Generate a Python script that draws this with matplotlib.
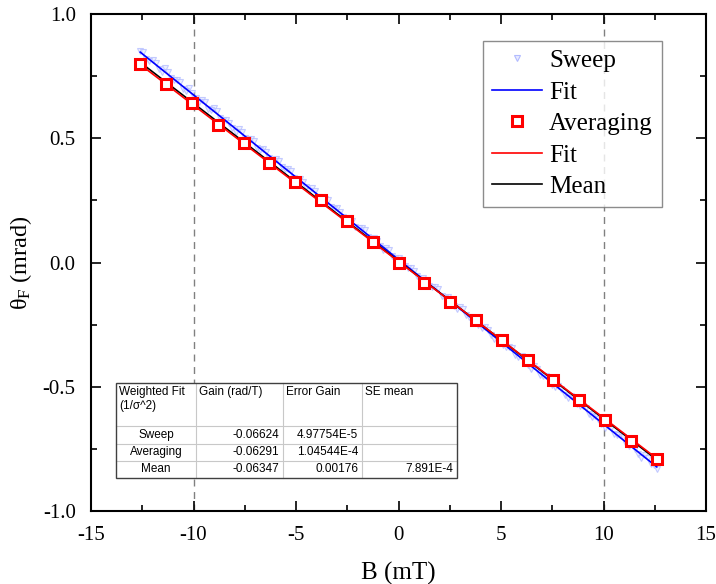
import matplotlib
matplotlib.use("Agg")
import matplotlib.pyplot as plt
import numpy as np
from matplotlib.patches import Rectangle
from matplotlib.lines import Line2D

plt.rcParams['font.family'] = ['Liberation Serif', 'DejaVu Serif']
plt.rcParams['mathtext.fontset'] = 'custom'
plt.rcParams['mathtext.rm'] = 'Liberation Serif'
plt.rcParams['mathtext.it'] = 'Liberation Serif:italic'

# ---------------- data ----------------
sweep_B = [-12.6, -12.3, -12.0, -11.7, -11.4, -11.1, -10.8, -10.5, -10.2, -9.9,
           -9.6, -9.3, -9.0, -8.7, -8.4, -8.1, -7.8, -7.5, -7.2, -6.9,
           -6.6, -6.3, -6.0, -5.7, -5.4, -5.1, -4.8, -4.5, -4.2, -3.9,
           -3.6, -3.3, -3.0, -2.7, -2.4, -2.1, -1.8, -1.5, -1.2, -0.9,
           -0.6, -0.3, 0.0, 0.3, 0.6, 0.9, 1.2, 1.5, 1.8, 2.1,
           2.4, 2.7, 3.0, 3.3, 3.6, 3.9, 4.2, 4.5, 4.8, 5.1,
           5.4, 5.7, 6.0, 6.3, 6.6, 6.9, 7.2, 7.5, 7.8, 8.1,
           8.4, 8.7, 9.0, 9.3, 9.6, 9.9, 10.2, 10.5, 10.8, 11.1,
           11.4, 11.7, 12.0, 12.3, 12.6,
           -12.45, -12.15, -11.85, -11.55, -11.25, -10.95, -10.65, -10.35, -10.05, -9.75,
           -9.45, -9.15, -8.85, -8.55, -8.25, -7.95, -7.65, -7.35, -7.05, -6.75,
           -6.45, -6.15, -5.85, -5.55, -5.25, -4.95, -4.65, -4.35, -4.05, -3.75,
           -3.45, -3.15, -2.85, -2.55, -2.25, -1.95, -1.65, -1.35, -1.05, -0.75,
           -0.45, -0.15, 0.15, 0.45, 0.75, 1.05, 1.35, 1.65, 1.95, 2.25,
           2.55, 2.85, 3.15, 3.45, 3.75, 4.05, 4.35, 4.65, 4.95, 5.25,
           5.55, 5.85, 6.15, 6.45, 6.75, 7.05, 7.35, 7.65, 7.95, 8.25,
           8.55, 8.85, 9.15, 9.45, 9.75, 10.05, 10.35, 10.65, 10.95, 11.25,
           11.55, 11.85, 12.15, 12.45]
sweep_theta = [0.852, 0.818, 0.815, 0.779, 0.781, 0.741, 0.735, 0.699, 0.701, 0.662,
               0.655, 0.619, 0.620, 0.583, 0.574, 0.541, 0.537, 0.503, 0.498, 0.461,
               0.455, 0.421, 0.417, 0.384, 0.378, 0.342, 0.336, 0.303, 0.298, 0.262,
               0.257, 0.224, 0.218, 0.183, 0.179, 0.144, 0.138, 0.104, 0.099, 0.065,
               0.059, 0.025, 0.019, -0.014, -0.021, -0.055, -0.061, -0.094, -0.100, -0.134,
               -0.140, -0.174, -0.179, -0.213, -0.219, -0.253, -0.259, -0.293, -0.298, -0.333,
               -0.339, -0.372, -0.378, -0.412, -0.418, -0.452, -0.457, -0.491, -0.497, -0.532,
               -0.537, -0.571, -0.576, -0.611, -0.616, -0.651, -0.656, -0.690, -0.696, -0.730,
               -0.736, -0.770, -0.775, -0.809, -0.830,
               0.847, 0.811, 0.801, 0.765, 0.765, 0.734, 0.727, 0.692, 0.682, 0.646,
               0.646, 0.615, 0.608, 0.572, 0.562, 0.527, 0.527, 0.496, 0.489, 0.453,
               0.443, 0.407, 0.408, 0.377, 0.370, 0.334, 0.324, 0.288, 0.288, 0.257,
               0.251, 0.215, 0.205, 0.169, 0.169, 0.138, 0.131, 0.095, 0.086, 0.050,
               0.050, 0.019, 0.012, -0.024, -0.034, -0.070, -0.069, -0.100, -0.107, -0.143,
               -0.153, -0.189, -0.189, -0.220, -0.226, -0.262, -0.272, -0.308, -0.308, -0.339,
               -0.346, -0.382, -0.391, -0.427, -0.427, -0.458, -0.465, -0.501, -0.511, -0.547,
               -0.546, -0.577, -0.584, -0.620, -0.630, -0.666, -0.666, -0.696, -0.703, -0.739,
               -0.749, -0.785, -0.785, -0.816]

avg_B = [-12.6, -11.34, -10.08, -8.82, -7.56, -6.3, -5.04, -3.78, -2.52, -1.26, 0.0,
         1.26, 2.52, 3.78, 5.04, 6.3, 7.56, 8.82, 10.08, 11.34, 12.6]
avg_theta = [0.80, 0.72, 0.64, 0.555, 0.48, 0.40, 0.325, 0.25, 0.165, 0.082, 0.0,
             -0.082, -0.157, -0.232, -0.311, -0.391, -0.473, -0.553, -0.635, -0.717, -0.79]

# fit parameters (slope in mrad/mT, intercept in mrad)
fit_names = ['Sweep', 'Averaging', 'Mean']
fit_slope = [-0.06624, -0.06291, -0.06347]
fit_intercept = [0.012, 0.004, 0.006]
fit_range = [-12.6, 12.6]

table_header = ['Weighted Fit\n(1/σ^2)', 'Gain (rad/T)', 'Error Gain', 'SE mean']
table_rows = [['Sweep', '-0.06624', '4.97754E-5', ''],
              ['Averaging', '-0.06291', '1.04544E-4', ''],
              ['Mean', '-0.06347', '0.00176', '7.891E-4']]

vlines_B = [-10, 10]

# ---------------- figure ----------------
fig = plt.figure(figsize=(7.16, 5.84), dpi=100)
ax = fig.add_axes([91/716, 73/584, 615/716, 497/584])

for xv in vlines_B:
    ax.axvline(xv, color='#808080', ls=(0, (5, 4)), lw=1.0, zorder=1)

sweep_style = dict(ls='none', marker='v', ms=5, mfc='#e8ebff', mec='#b2bbff', mew=0.8)
ax.plot(sweep_B, sweep_theta, alpha=0.75, zorder=2, **sweep_style)
xf = np.array(fit_range)
ax.plot(xf, fit_slope[0]*xf + fit_intercept[0], color='#0000ff', lw=1.2, zorder=3)
ax.plot(xf, fit_slope[2]*xf + fit_intercept[2], color='black', lw=1.2, zorder=3)
ax.plot(xf, fit_slope[1]*xf + fit_intercept[1], color='#ff0000', lw=1.2, zorder=4)
avg_style = dict(ls='none', marker='s', ms=7, mfc='white', mec='#ff0000', mew=2.2)
ax.plot(avg_B, avg_theta, zorder=5, **avg_style)

ax.set_xlim(-15, 15)
ax.set_ylim(-1.0, 1.0)
ax.set_xticks([-15, -10, -5, 0, 5, 10, 15])
ax.set_xticks(np.arange(-12.5, 15, 5), minor=True)
ax.set_yticks([-1.0, -0.5, 0.0, 0.5, 1.0])
ax.set_yticks([-0.75, -0.25, 0.25, 0.75], minor=True)
ax.set_yticklabels(['-1.0', '-0.5', '0.0', '0.5', '1.0'])
ax.set_xticklabels(['-15', '-10', '-5', '0', '5', '10', '15'])
ax.tick_params(which='both', direction='in', top=True, right=True, labelsize=15, width=1.2)
ax.tick_params(which='major', length=7)
ax.tick_params(which='minor', length=4)
ax.tick_params(axis='x', pad=11)
ax.tick_params(axis='y', pad=11)
for sp in ax.spines.values():
    sp.set_linewidth(1.5)

ax.set_xlabel('B (mT)', fontsize=18, labelpad=12)
ax.set_ylabel(r'θ$_{\mathrm{F}}$ (mrad)', fontsize=17.5, labelpad=6)

# legend
handles = [
    Line2D([], [], **sweep_style),
    Line2D([], [], color='#0000ff', lw=1.2),
    Line2D([], [], **avg_style),
    Line2D([], [], color='#ff0000', lw=1.2),
    Line2D([], [], color='black', lw=1.2),
]
labels = ['Sweep', 'Fit', 'Averaging', 'Fit', 'Mean']
leg = ax.legend(handles, labels, loc='upper left', bbox_to_anchor=(0.637, 0.946),
                fontsize=18, frameon=True, fancybox=False, edgecolor='#707070',
                handlelength=2.0, handletextpad=0.3, labelspacing=0.36,
                borderpad=0.35, borderaxespad=0.0)
leg.get_frame().set_linewidth(1.0)

# ---------------- table (pixel layout converted to axes fraction) ----------------
ax_l, ax_b, ax_w, ax_h = 91, 511, 615, 497
def fx(px):
    return (px - ax_l) / ax_w
def fy(py):
    return (ax_b - py) / ax_h

col_edges = [116, 196, 283, 362, 457]
row_edges = [383, 426, 443.5, 461, 478]
tfont = dict(family=['Liberation Sans', 'DejaVu Sans'], fontsize=8.5, color='black')

ax.add_patch(Rectangle((fx(col_edges[0]), fy(row_edges[-1])),
                       fx(col_edges[-1]) - fx(col_edges[0]),
                       fy(row_edges[0]) - fy(row_edges[-1]),
                       transform=ax.transAxes, facecolor='white', edgecolor='none',
                       zorder=6))
for c in col_edges[1:-1]:
    ax.plot([fx(c), fx(c)], [fy(row_edges[0]), fy(row_edges[-1])], transform=ax.transAxes,
            color='#c8c8c8', lw=0.8, zorder=7)
for r in row_edges[1:-1]:
    ax.plot([fx(col_edges[0]), fx(col_edges[-1])], [fy(r), fy(r)], transform=ax.transAxes,
            color='#c8c8c8', lw=0.8, zorder=7)
ax.add_patch(Rectangle((fx(col_edges[0]), fy(row_edges[-1])),
                       fx(col_edges[-1]) - fx(col_edges[0]),
                       fy(row_edges[0]) - fy(row_edges[-1]),
                       transform=ax.transAxes, facecolor='none', edgecolor='#404040',
                       lw=1.0, zorder=8))

for j, h in enumerate(table_header):
    ax.text(fx(col_edges[j] + 3), fy(row_edges[0] + 3), h, transform=ax.transAxes,
            ha='left', va='top', linespacing=1.25, zorder=9, **tfont)
for i, row in enumerate(table_rows):
    yc = fy((row_edges[i + 1] + row_edges[i + 2]) / 2)
    ax.text(fx((col_edges[0] + col_edges[1]) / 2), yc, row[0], transform=ax.transAxes,
            ha='center', va='center', zorder=9, **tfont)
    for j in range(1, 4):
        if row[j]:
            ax.text(fx(col_edges[j + 1] - 4), yc, row[j], transform=ax.transAxes,
                    ha='right', va='center', zorder=9, **tfont)

fig.savefig('out.png', dpi=100)
